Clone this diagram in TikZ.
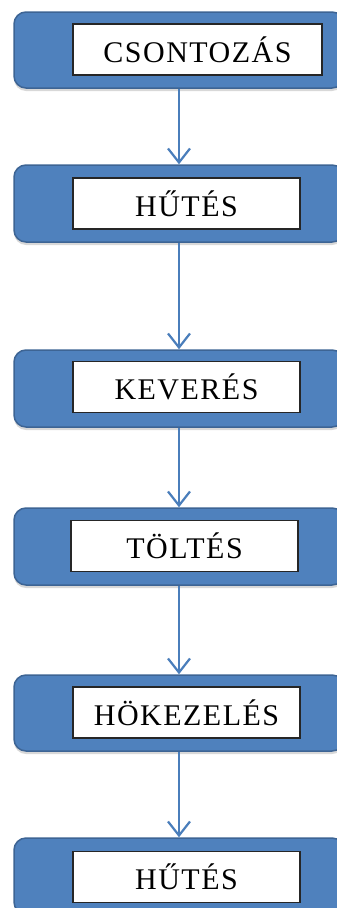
\documentclass[tikz,border=0pt]{standalone}
\usepackage{fontspec}
\setmainfont{Liberation Serif}
\newfontfamily\boxfont[LetterSpace=5]{Liberation Serif}
\usetikzlibrary{arrows.meta,shadows}
\definecolor{boxblue}{HTML}{4F81BD}
\definecolor{boxedge}{HTML}{3D6494}
\definecolor{arrowblue}{HTML}{4A7EBB}
\begin{document}
\begin{tikzpicture}[x=1pt,y=-1pt,
  outerbox/.style={draw=boxedge, line width=1.5pt, fill=boxblue, rounded corners=12pt,
    minimum width=330pt, inner sep=0pt,
    drop shadow={shadow xshift=0pt, shadow yshift=-3pt, opacity=0.3}},
  innerbox/.style={draw=black!85, line width=1.4pt, fill=white, inner sep=0pt,
    minimum height=51pt, font=\boxfont\fontsize{30}{36}\selectfont},
  flow/.style={draw=arrowblue, line width=2.2pt, -{Straight Barb[length=14pt,width=22pt,line width=2.2pt]}}
]
\useasboundingbox (0,0) rectangle (337,908);
\clip (0,0) rectangle (337,908);
\fill[white] (0,0) rectangle (337,908);

\node[outerbox, minimum height=76pt] (b1) at (179,50) {};
\node[outerbox, minimum height=77pt] (b2) at (179,203.5) {};
\node[outerbox, minimum height=77pt] (b3) at (179,388.5) {};
\node[outerbox, minimum height=77pt] (b4) at (179,546.5) {};
\node[outerbox, minimum height=76pt] (b5) at (179,713) {};
\node[outerbox, minimum height=76pt] (b6) at (179,876) {};

\node[innerbox, minimum width=249pt] (t1) at (197.5,49.5) {CSONTOZÁS};
\node[innerbox, minimum width=227pt] (t2) at (186.5,203.5) {HŰTÉS};
\node[innerbox, minimum width=227pt] (t3) at (186.5,387) {KEVERÉS};
\node[innerbox, minimum width=227pt] (t4) at (184.5,546) {TÖLTÉS};
\node[innerbox, minimum width=227pt] (t5) at (186.5,712.5) {HÖKEZELÉS};
\node[innerbox, minimum width=227pt] (t6) at (186.5,877) {HŰTÉS};

\draw[flow] (b1.south) -- (b2.north);
\draw[flow] (b2.south) -- (b3.north);
\draw[flow] (b3.south) -- (b4.north);
\draw[flow] (b4.south) -- (b5.north);
\draw[flow] (b5.south) -- (b6.north);
\end{tikzpicture}
\end{document}
